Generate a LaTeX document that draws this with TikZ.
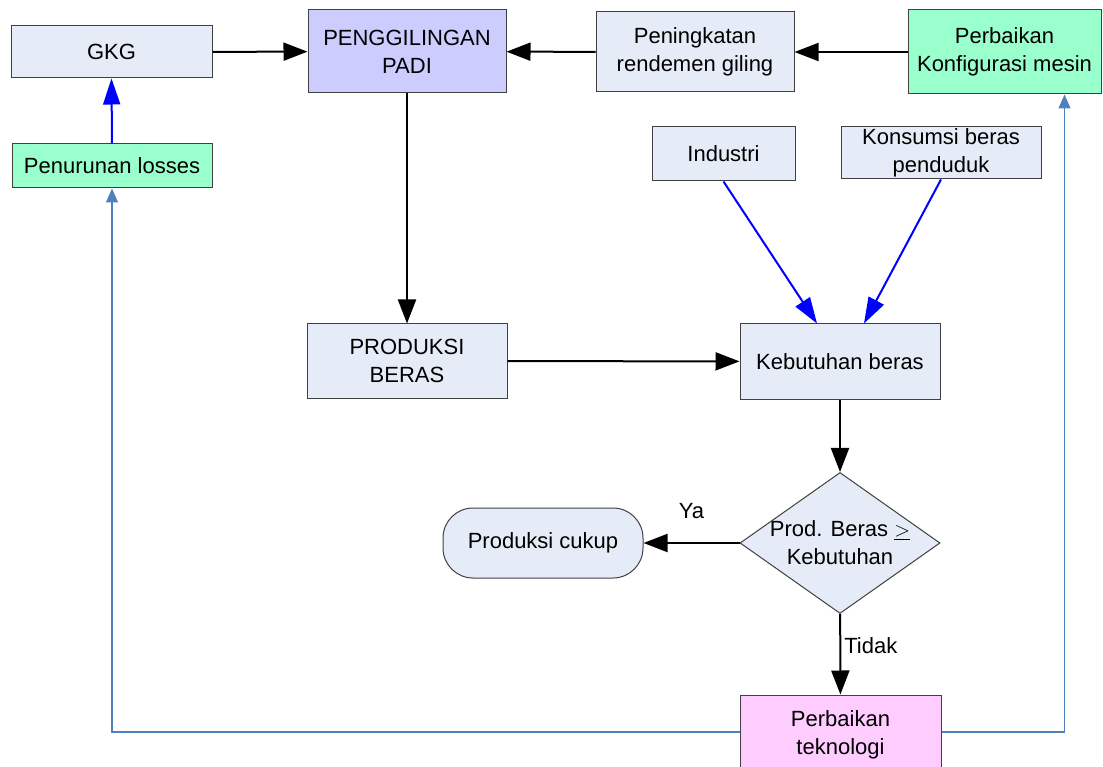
\documentclass[tikz,border=0pt]{standalone}
\usepackage{fontspec}
\setmainfont{Liberation Sans}
\usepackage{xcolor}
\usetikzlibrary{arrows.meta,shapes.geometric}

\definecolor{boxfill}{HTML}{E6ECF7}
\definecolor{lavender}{HTML}{CCCCFF}
\definecolor{mint}{HTML}{99FFCC}
\definecolor{pinkish}{HTML}{FFCCFF}
\definecolor{fbblue}{HTML}{4F81BD}

\begin{document}
\begin{tikzpicture}[x=1pt,y=-1pt,font=\fontsize{22}{28}\selectfont]
	\tikzstyle{block} = [draw=black!75, line width=1pt, fill=boxfill, align=center, inner sep=0pt]
	\tikzstyle{flow} = [draw=black, line width=2pt, -{Triangle[length=24pt,width=18pt]}]
	\tikzstyle{input} = [draw=blue, line width=2pt, -{Triangle[length=26pt,width=17pt]}]
	\tikzstyle{feedback} = [draw=fbblue, line width=1.3pt, -{Triangle[length=14pt,width=12pt]}]
	\useasboundingbox (0,0) rectangle (1103,767);
		\node[block, minimum width=201, minimum height=52] (gkg) at (111.5,52) {GKG};
		\node[block, fill=lavender, minimum width=198, minimum height=83] (giling) at (407,51.5) {PENGGILINGAN\\PADI};
		\node[block, minimum width=198, minimum height=80] (rendemen) at (695,52) {Peningkatan\\rendemen giling};
		\node[block, fill=mint, minimum width=193, minimum height=84] (mesin) at (1004.5,52) {Perbaikan\\Konfigurasi mesin};
		\node[block, fill=mint, minimum width=200, minimum height=44] (losses) at (112,166) {Penurunan losses};
		\node[block, minimum width=143, minimum height=54] (industri) at (723.5,154) {Industri};
		\node[block, minimum width=200, minimum height=52] (konsumsi) at (941,153) {Konsumsi beras\\penduduk};
		\node[block, minimum width=200, minimum height=74] (produksi) at (407,361) {PRODUKSI\\BERAS};
		\node[block, minimum width=200, minimum height=75] (kebutuhan) at (840,361.5) {Kebutuhan beras};
		\node[block, diamond, minimum width=200, minimum height=141, aspect=1.42] (cek) at (840,543) {};
		\node[align=center] at (cek.center) {Prod. Beras $\underline{>}$\\Kebutuhan};
		\node[block, rounded corners=30, minimum width=200, minimum height=70] (cukup) at (543,543) {Produksi cukup};
		\node[block, fill=pinkish, minimum width=201, minimum height=80] (teknologi) at (840.5,735) {Perbaikan\\teknologi};
	\path (gkg) edge[flow] (giling)
	      (rendemen) edge[flow] (giling)
	      (mesin) edge[flow] (rendemen)
	      (giling) edge[flow] (produksi)
	      (produksi) edge[flow] (kebutuhan)
	      (kebutuhan) edge[flow] (cek)
	      (cek) edge[flow] node[above=20pt, pos=0.5] {Ya} (cukup)
	      (cek) edge[flow] node[right, pos=0.4, inner sep=3pt] {Tidak} (teknologi);
	\path (industri.south) edge[input] ([xshift=-23pt]kebutuhan.north)
	      (konsumsi.south) edge[input] ([xshift=24pt]kebutuhan.north)
	      (losses.north) edge[input] (gkg.south);
	\draw [feedback] ([yshift=3pt]teknologi.west) -| (losses.south);
	\draw [feedback] ([yshift=3pt]teknologi.east) -| ([xshift=60pt]mesin.south);
	\end{tikzpicture}
\end{document}
